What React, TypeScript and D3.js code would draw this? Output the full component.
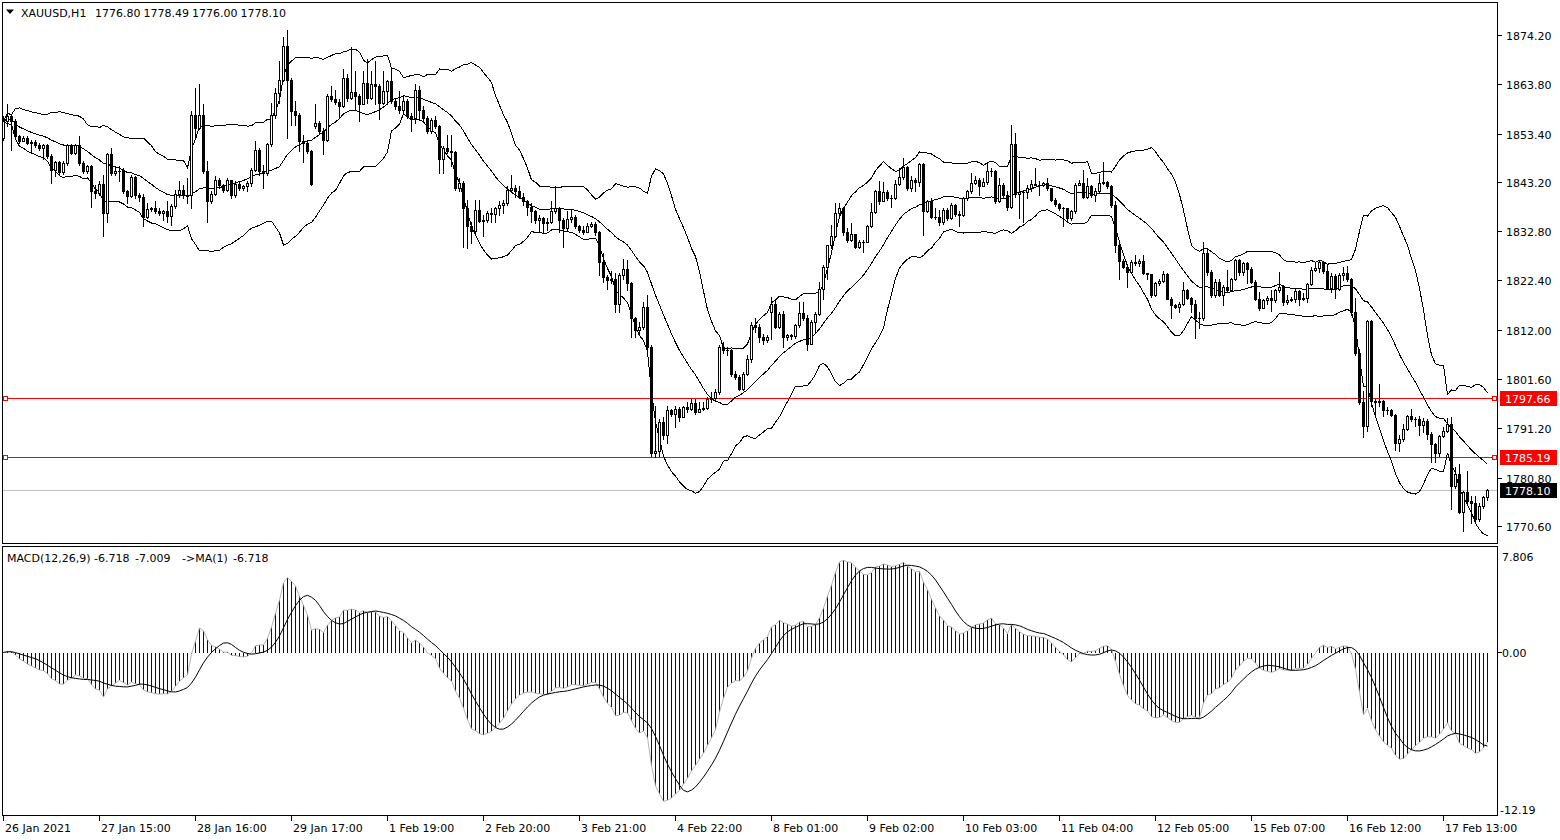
import React, { useEffect, useRef } from "react";
import * as d3 from "d3";

// XAUUSD H1 bars (oldest first)
const opens = [
  1852.5, 1856.0, 1857.1, 1856.0, 1852.8, 1851.9, 1852.5, 1851.4, 1851.6, 1850.9,
  1850.4, 1850.9, 1848.6, 1845.8, 1847.4, 1845.3, 1847.2, 1850.9, 1849.3, 1850.9,
  1847.2, 1845.4, 1846.5, 1841.2, 1840.8, 1842.8, 1836.6, 1849.0, 1845.1, 1845.6,
  1845.4, 1841.2, 1840.3, 1844.2, 1840.5, 1840.1, 1835.9, 1837.5, 1837.7, 1837.0,
  1836.6, 1837.1, 1836.1, 1838.2, 1840.6, 1841.5, 1840.5, 1840.4, 1857.4, 1854.6,
  1857.4, 1845.4, 1839.1, 1840.6, 1843.5, 1842.5, 1841.5, 1843.5, 1840.5, 1842.8,
  1841.9, 1842.3, 1843.0, 1845.8, 1850.0, 1845.4, 1845.1, 1851.1, 1857.3, 1862.0,
  1864.8, 1871.9, 1864.6, 1858.1, 1857.4, 1851.8, 1851.4, 1849.7, 1855.0, 1855.7,
  1854.0, 1852.1, 1861.3, 1860.6, 1860.0, 1859.3, 1865.2, 1861.0, 1862.2, 1861.3,
  1859.7, 1864.1, 1861.0, 1863.9, 1863.4, 1859.9, 1862.4, 1864.5, 1860.3, 1859.2,
  1858.3, 1860.3, 1857.1, 1856.7, 1862.5, 1858.3, 1856.7, 1853.9, 1856.2, 1855.0,
  1848.1, 1850.4, 1849.8, 1849.5, 1841.9, 1843.0, 1837.7, 1834.0, 1832.9, 1837.3,
  1835.0, 1835.2, 1836.6, 1836.4, 1837.7, 1838.4, 1838.7, 1841.5, 1841.9, 1841.2,
  1840.1, 1839.1, 1838.0, 1837.0, 1835.2, 1835.5, 1834.5, 1834.8, 1837.0, 1837.7,
  1835.2, 1833.4, 1835.4, 1835.9, 1833.8, 1833.1, 1832.7, 1834.0, 1834.3, 1832.6,
  1826.4, 1823.2, 1822.5, 1822.8, 1817.5, 1823.5, 1824.8, 1821.8, 1814.4, 1811.9,
  1812.6, 1816.8, 1808.4, 1786.1, 1786.5, 1792.5, 1789.7, 1795.0, 1794.2, 1795.3,
  1793.7, 1795.7, 1795.2, 1796.6, 1794.7, 1795.3, 1795.5, 1797.3, 1797.6, 1798.8,
  1808.4, 1807.7, 1807.8, 1802.7, 1802.0, 1799.5, 1802.7, 1805.9, 1813.0, 1812.6,
  1810.5, 1809.8, 1815.8, 1817.5, 1812.6, 1815.4, 1810.5, 1810.8, 1810.7, 1813.0,
  1815.6, 1814.5, 1809.1, 1813.7, 1815.4, 1820.7, 1825.3, 1829.8, 1831.7, 1836.6,
  1837.7, 1832.6, 1831.0, 1832.2, 1829.5, 1830.5, 1830.6, 1833.8, 1836.8, 1841.3,
  1839.2, 1841.0, 1839.8, 1839.9, 1842.8, 1844.2, 1846.3, 1841.9, 1843.5, 1843.2,
  1847.0, 1837.0, 1839.1, 1835.9, 1835.7, 1834.8, 1837.3, 1835.5, 1838.4, 1836.4,
  1836.3, 1839.8, 1841.2, 1843.0, 1843.5, 1842.3, 1843.2, 1845.6, 1845.4, 1839.1,
  1842.6, 1840.4, 1838.0, 1851.1, 1840.6, 1841.0, 1841.0, 1841.9, 1842.8, 1842.6,
  1842.5, 1843.0, 1841.9, 1839.4, 1838.5, 1837.7, 1837.7, 1835.5, 1837.0, 1842.6,
  1842.9, 1840.1, 1842.3, 1840.5, 1841.3, 1843.0, 1843.1, 1842.3, 1838.4, 1829.9,
  1826.5, 1825.3, 1824.1, 1826.2, 1826.0, 1826.5, 1823.9, 1823.7, 1819.3, 1821.8,
  1822.3, 1823.8, 1818.6, 1817.2, 1816.8, 1817.5, 1820.4, 1818.7, 1817.5, 1814.4,
  1814.5, 1828.1, 1824.1, 1819.3, 1822.1, 1819.3, 1821.1, 1820.4, 1822.7, 1826.7,
  1824.1, 1826.0, 1824.8, 1822.1, 1818.6, 1816.6, 1818.3, 1818.7, 1818.3, 1820.4,
  1821.1, 1817.9, 1818.3, 1818.5, 1820.2, 1818.6, 1818.7, 1821.6, 1824.6, 1825.0,
  1826.4, 1824.3, 1820.9, 1823.4, 1820.6, 1823.5, 1823.9, 1822.7, 1815.8, 1807.0,
  1796.7, 1791.8, 1813.8, 1796.9, 1796.7, 1796.9, 1795.0, 1795.0, 1794.0, 1788.1,
  1789.0, 1791.1, 1793.8, 1793.2, 1793.2, 1791.9, 1792.8, 1790.0, 1787.9, 1786.0,
  1789.5, 1790.7, 1792.1, 1779.1, 1781.5, 1773.6, 1777.7, 1775.9, 1775.5, 1772.0,
  1774.8, 1776.8,
];

const highs = [
  1857.1, 1859.6, 1857.4, 1856.4, 1853.2, 1852.8, 1852.8, 1852.1, 1852.0, 1851.4,
  1851.2, 1851.1, 1849.0, 1847.7, 1847.7, 1847.6, 1851.1, 1851.1, 1851.2, 1852.8,
  1847.6, 1846.8, 1846.8, 1842.6, 1843.3, 1844.7, 1849.3, 1850.4, 1846.1, 1846.5,
  1846.1, 1841.5, 1844.6, 1844.4, 1840.8, 1840.6, 1838.7, 1838.0, 1839.1, 1837.7,
  1837.3, 1839.1, 1838.5, 1841.5, 1843.3, 1842.6, 1844.0, 1858.1, 1863.1, 1863.9,
  1859.6, 1847.6, 1841.2, 1844.4, 1844.0, 1842.8, 1844.0, 1843.7, 1843.3, 1843.2,
  1842.6, 1843.3, 1846.1, 1851.8, 1850.4, 1846.8, 1851.4, 1859.9, 1863.1, 1868.7,
  1873.7, 1875.2, 1865.2, 1860.3, 1857.8, 1853.2, 1852.1, 1850.0, 1859.7, 1856.0,
  1854.6, 1861.7, 1863.4, 1862.7, 1860.6, 1867.0, 1865.9, 1871.6, 1866.6, 1861.7,
  1866.6, 1869.1, 1866.6, 1868.7, 1863.8, 1866.6, 1864.8, 1867.0, 1861.0, 1862.4,
  1861.3, 1860.6, 1857.8, 1863.8, 1863.4, 1859.2, 1857.1, 1856.7, 1857.1, 1855.3,
  1850.7, 1853.2, 1853.2, 1849.7, 1844.0, 1843.3, 1839.4, 1834.8, 1839.4, 1839.4,
  1836.3, 1837.0, 1837.7, 1838.0, 1839.1, 1839.4, 1842.3, 1844.7, 1842.6, 1842.3,
  1840.8, 1839.4, 1838.7, 1837.3, 1836.3, 1835.9, 1835.5, 1839.1, 1842.3, 1838.0,
  1835.5, 1837.0, 1837.3, 1836.3, 1834.1, 1834.0, 1834.5, 1834.7, 1834.8, 1832.9,
  1828.1, 1823.5, 1824.3, 1823.9, 1823.9, 1826.9, 1826.7, 1822.1, 1814.7, 1813.7,
  1817.9, 1819.3, 1808.7, 1796.0, 1793.2, 1793.5, 1796.0, 1795.3, 1796.0, 1795.7,
  1796.0, 1796.7, 1797.4, 1797.4, 1796.7, 1796.7, 1797.8, 1798.8, 1799.5, 1808.7,
  1809.4, 1808.4, 1808.0, 1803.4, 1802.4, 1803.1, 1806.6, 1813.7, 1814.4, 1813.3,
  1811.2, 1811.0, 1819.0, 1818.6, 1815.8, 1815.9, 1811.2, 1811.2, 1813.3, 1817.9,
  1817.9, 1815.1, 1814.0, 1815.8, 1822.1, 1825.7, 1829.9, 1834.1, 1838.7, 1838.7,
  1838.0, 1833.4, 1834.5, 1832.0, 1831.0, 1831.0, 1834.1, 1838.7, 1841.5, 1843.3,
  1843.2, 1841.5, 1840.5, 1843.7, 1846.1, 1848.3, 1846.5, 1844.4, 1844.0, 1847.2,
  1847.2, 1839.4, 1839.8, 1837.7, 1837.3, 1837.7, 1837.7, 1838.7, 1838.5, 1837.0,
  1840.1, 1841.5, 1845.1, 1844.4, 1844.0, 1844.0, 1847.2, 1846.1, 1845.8, 1844.0,
  1843.0, 1841.2, 1855.3, 1853.5, 1845.4, 1841.5, 1842.6, 1843.7, 1846.1, 1843.3,
  1843.2, 1844.0, 1842.0, 1839.8, 1838.7, 1838.0, 1837.5, 1837.3, 1843.0, 1843.7,
  1845.8, 1844.0, 1842.5, 1841.9, 1844.9, 1847.5, 1843.3, 1842.5, 1839.1, 1830.3,
  1826.9, 1825.7, 1826.7, 1827.8, 1826.9, 1827.8, 1823.9, 1823.5, 1822.1, 1822.7,
  1824.3, 1823.9, 1819.0, 1817.5, 1817.9, 1822.1, 1820.7, 1819.0, 1818.3, 1815.8,
  1830.6, 1829.2, 1824.6, 1822.8, 1822.8, 1821.4, 1824.6, 1823.0, 1826.9, 1826.9,
  1826.4, 1826.2, 1825.3, 1822.5, 1819.9, 1818.6, 1819.2, 1820.4, 1820.7, 1824.1,
  1821.4, 1819.3, 1819.0, 1820.7, 1820.4, 1819.7, 1821.8, 1825.3, 1826.0, 1826.7,
  1826.5, 1825.7, 1823.9, 1823.7, 1823.9, 1825.3, 1825.5, 1823.0, 1818.7, 1808.0,
  1799.0, 1814.0, 1814.0, 1797.4, 1800.6, 1797.1, 1795.7, 1795.3, 1794.2, 1789.7,
  1792.1, 1794.0, 1795.2, 1793.5, 1793.9, 1793.3, 1793.2, 1790.4, 1788.2, 1789.7,
  1791.4, 1793.3, 1793.5, 1783.0, 1783.7, 1778.0, 1782.2, 1776.9, 1776.9, 1775.5,
  1776.9, 1778.49,
];

const lows = [
  1852.1, 1855.0, 1850.0, 1852.5, 1851.4, 1851.8, 1851.1, 1849.3, 1850.5, 1850.0,
  1848.1, 1848.3, 1843.0, 1844.4, 1844.9, 1844.9, 1846.8, 1849.0, 1849.0, 1846.8,
  1845.1, 1845.1, 1838.0, 1839.8, 1840.5, 1831.7, 1834.8, 1844.7, 1844.7, 1843.3,
  1840.8, 1838.7, 1840.1, 1839.8, 1839.1, 1833.8, 1835.5, 1837.0, 1836.6, 1836.3,
  1835.2, 1834.8, 1834.1, 1837.7, 1840.1, 1839.8, 1838.7, 1837.7, 1852.8, 1854.3,
  1845.1, 1834.8, 1838.7, 1840.4, 1841.9, 1841.1, 1841.2, 1839.8, 1840.1, 1841.5,
  1841.5, 1841.2, 1842.3, 1845.4, 1844.7, 1841.9, 1844.7, 1850.7, 1856.7, 1859.9,
  1864.5, 1852.5, 1855.3, 1855.3, 1849.7, 1847.5, 1849.3, 1842.5, 1854.6, 1853.5,
  1849.0, 1851.8, 1860.3, 1859.6, 1856.7, 1859.0, 1860.3, 1860.6, 1858.5, 1856.0,
  1859.6, 1859.9, 1860.6, 1859.6, 1856.4, 1859.6, 1859.6, 1859.9, 1858.5, 1857.8,
  1857.8, 1856.7, 1853.9, 1855.7, 1856.7, 1856.0, 1853.5, 1853.5, 1854.6, 1845.1,
  1845.1, 1849.3, 1846.5, 1841.5, 1841.2, 1829.5, 1829.2, 1830.3, 1832.6, 1834.8,
  1831.7, 1834.8, 1834.8, 1834.8, 1836.2, 1836.6, 1838.4, 1841.2, 1840.1, 1839.8,
  1838.4, 1836.3, 1834.8, 1834.5, 1832.7, 1832.4, 1833.1, 1834.5, 1836.6, 1832.7,
  1829.5, 1833.1, 1834.8, 1833.4, 1832.6, 1832.2, 1832.6, 1833.6, 1832.0, 1823.5,
  1822.1, 1820.7, 1821.8, 1815.8, 1815.8, 1822.8, 1820.4, 1810.5, 1810.5, 1811.2,
  1812.2, 1807.7, 1785.4, 1785.1, 1785.4, 1789.0, 1788.2, 1793.9, 1791.4, 1792.8,
  1793.5, 1794.6, 1795.0, 1794.2, 1794.6, 1795.0, 1795.3, 1796.7, 1797.1, 1798.5,
  1807.0, 1806.6, 1802.2, 1801.7, 1799.2, 1799.2, 1802.5, 1805.2, 1811.5, 1809.4,
  1809.1, 1809.4, 1810.1, 1812.3, 1812.3, 1808.4, 1809.8, 1810.1, 1810.3, 1812.6,
  1814.0, 1807.7, 1808.9, 1811.5, 1815.1, 1818.6, 1822.8, 1829.2, 1831.5, 1835.9,
  1832.0, 1830.6, 1830.8, 1829.2, 1829.3, 1828.5, 1830.5, 1833.6, 1836.6, 1838.5,
  1839.1, 1839.4, 1838.0, 1839.6, 1842.5, 1843.9, 1841.5, 1841.3, 1841.2, 1842.3,
  1832.0, 1836.8, 1835.5, 1835.4, 1834.1, 1834.3, 1835.2, 1835.4, 1836.1, 1834.0,
  1836.1, 1839.4, 1840.8, 1842.7, 1840.5, 1842.6, 1842.8, 1844.4, 1838.7, 1838.9,
  1839.9, 1837.3, 1837.7, 1840.1, 1835.5, 1834.8, 1839.8, 1841.2, 1842.5, 1840.5,
  1842.3, 1841.5, 1839.1, 1838.2, 1837.3, 1833.8, 1835.0, 1835.2, 1836.6, 1842.5,
  1839.8, 1839.9, 1840.1, 1839.2, 1841.0, 1842.8, 1841.9, 1838.0, 1828.5, 1822.8,
  1825.0, 1821.1, 1823.9, 1825.7, 1825.5, 1823.7, 1822.8, 1819.0, 1819.2, 1821.4,
  1822.0, 1818.5, 1814.4, 1816.5, 1815.8, 1817.3, 1818.5, 1815.8, 1810.3, 1812.3,
  1814.0, 1823.5, 1819.0, 1819.0, 1819.2, 1817.3, 1820.0, 1820.2, 1822.5, 1823.5,
  1823.5, 1821.8, 1821.8, 1818.3, 1816.1, 1816.5, 1817.5, 1815.9, 1817.9, 1820.0,
  1817.2, 1817.5, 1818.0, 1817.8, 1817.2, 1818.3, 1817.9, 1821.4, 1824.4, 1824.1,
  1823.9, 1820.7, 1819.9, 1818.7, 1820.4, 1822.5, 1822.3, 1815.1, 1806.6, 1796.4,
  1789.3, 1790.7, 1796.0, 1793.5, 1796.0, 1793.8, 1794.2, 1793.9, 1786.7, 1786.5,
  1788.6, 1790.9, 1792.8, 1791.8, 1789.7, 1790.4, 1789.0, 1784.0, 1784.0, 1785.4,
  1789.3, 1790.4, 1774.1, 1778.7, 1773.4, 1769.5, 1775.5, 1771.3, 1771.3, 1771.7,
  1774.5, 1776.0,
];

const closes = [
  1856.0, 1857.1, 1856.0, 1852.8, 1851.9, 1852.5, 1851.4, 1851.6, 1850.9, 1850.4,
  1850.9, 1848.6, 1845.8, 1847.4, 1845.3, 1847.2, 1850.9, 1849.3, 1850.9, 1847.2,
  1845.4, 1846.5, 1841.2, 1840.8, 1842.8, 1836.6, 1849.0, 1845.1, 1845.6, 1845.4,
  1841.2, 1840.3, 1844.2, 1840.5, 1840.1, 1835.9, 1837.5, 1837.7, 1837.0, 1836.6,
  1837.1, 1836.1, 1838.2, 1840.6, 1841.5, 1840.5, 1840.4, 1857.4, 1854.6, 1857.4,
  1845.4, 1839.1, 1840.6, 1843.5, 1842.5, 1841.5, 1843.5, 1840.5, 1842.8, 1841.9,
  1842.3, 1843.0, 1845.8, 1850.0, 1845.4, 1845.1, 1851.1, 1857.3, 1862.0, 1864.8,
  1871.9, 1864.6, 1858.1, 1857.4, 1851.8, 1851.4, 1849.7, 1842.8, 1855.7, 1854.0,
  1852.1, 1861.3, 1860.6, 1860.0, 1859.3, 1865.2, 1861.0, 1862.2, 1861.3, 1859.7,
  1864.1, 1861.0, 1863.9, 1863.4, 1859.9, 1862.4, 1864.5, 1860.3, 1859.2, 1858.3,
  1860.3, 1857.1, 1856.7, 1862.5, 1858.3, 1856.7, 1853.9, 1856.2, 1855.0, 1848.1,
  1850.4, 1849.8, 1849.5, 1841.9, 1843.0, 1837.7, 1834.0, 1832.9, 1837.3, 1835.0,
  1835.2, 1836.6, 1836.4, 1837.7, 1838.4, 1838.7, 1841.5, 1841.9, 1841.2, 1840.1,
  1839.1, 1838.0, 1837.0, 1835.2, 1835.5, 1834.5, 1834.8, 1837.0, 1837.7, 1835.2,
  1833.4, 1835.4, 1835.9, 1833.8, 1833.1, 1832.7, 1834.0, 1834.3, 1832.6, 1826.4,
  1823.2, 1822.5, 1822.8, 1817.5, 1823.5, 1824.8, 1821.8, 1814.4, 1811.9, 1812.6,
  1816.8, 1808.4, 1786.1, 1786.5, 1792.5, 1789.7, 1795.0, 1794.2, 1795.3, 1793.7,
  1795.7, 1795.2, 1796.6, 1794.7, 1795.3, 1795.5, 1797.3, 1797.6, 1798.8, 1808.4,
  1807.7, 1807.8, 1802.7, 1802.0, 1799.5, 1802.7, 1805.9, 1813.0, 1812.6, 1810.5,
  1809.8, 1810.5, 1817.5, 1812.6, 1815.4, 1810.5, 1810.8, 1810.7, 1813.0, 1815.6,
  1814.5, 1809.1, 1813.7, 1815.4, 1820.7, 1825.3, 1829.8, 1831.7, 1836.6, 1837.7,
  1832.6, 1831.0, 1832.2, 1829.5, 1830.5, 1830.6, 1833.8, 1836.8, 1841.3, 1839.2,
  1841.0, 1839.8, 1839.9, 1842.8, 1844.2, 1846.3, 1841.9, 1843.5, 1843.2, 1847.0,
  1837.0, 1839.1, 1835.9, 1835.7, 1834.8, 1837.3, 1835.5, 1838.4, 1836.4, 1836.3,
  1839.8, 1841.2, 1843.0, 1843.5, 1842.3, 1843.2, 1845.6, 1845.4, 1839.1, 1842.6,
  1840.4, 1838.0, 1851.1, 1840.6, 1841.0, 1841.0, 1841.9, 1842.8, 1842.6, 1842.5,
  1843.0, 1841.9, 1839.4, 1838.5, 1837.7, 1837.7, 1835.5, 1837.0, 1842.6, 1842.9,
  1840.1, 1842.3, 1840.5, 1841.3, 1843.0, 1843.1, 1842.3, 1838.4, 1829.9, 1826.5,
  1825.3, 1824.1, 1826.2, 1826.0, 1826.5, 1823.9, 1823.7, 1819.3, 1821.8, 1822.3,
  1823.8, 1818.6, 1817.2, 1816.8, 1817.5, 1820.4, 1818.7, 1817.5, 1814.4, 1814.5,
  1828.1, 1824.1, 1819.3, 1822.1, 1819.3, 1821.1, 1820.4, 1822.7, 1826.7, 1824.1,
  1826.0, 1824.8, 1822.1, 1818.6, 1816.6, 1818.3, 1818.7, 1818.3, 1820.4, 1821.1,
  1817.9, 1818.3, 1818.5, 1820.2, 1818.6, 1818.7, 1821.6, 1824.6, 1825.0, 1826.4,
  1824.3, 1820.9, 1823.4, 1820.6, 1823.5, 1823.9, 1822.7, 1815.8, 1807.0, 1796.7,
  1791.8, 1813.8, 1796.9, 1796.7, 1796.9, 1795.0, 1795.0, 1794.0, 1788.1, 1789.0,
  1791.1, 1793.8, 1793.2, 1793.2, 1791.9, 1792.8, 1790.0, 1787.9, 1786.0, 1789.5,
  1790.7, 1792.1, 1779.1, 1781.5, 1773.6, 1777.7, 1775.9, 1775.5, 1772.0, 1774.8,
  1776.8, 1778.1,
];

const priceTicks = [1874.2, 1863.8, 1853.4, 1843.2, 1832.8, 1822.4, 1812.0, 1801.6, 1791.2, 1780.8, 1770.6];
const macdTicks = [7.806, 0, -12.19];
const macdTickText = ["7.806", "0.00", "-12.19"];
const timeLabels = [
  "26 Jan 2021", "27 Jan 15:00", "28 Jan 16:00", "29 Jan 17:00", "1 Feb 19:00", "2 Feb 20:00",
  "3 Feb 21:00", "4 Feb 22:00", "8 Feb 01:00", "9 Feb 02:00", "10 Feb 03:00", "11 Feb 04:00",
  "12 Feb 05:00", "15 Feb 07:00", "16 Feb 12:00", "17 Feb 13:00",
];
const timeLabelBars = [0, 24, 48, 72, 96, 120, 144, 168, 192, 216, 240, 264, 288, 312, 336, 360];
const levelLines = [1797.66, 1785.19];
const bidPrice = 1778.1;
const headerValues = ["1776.80", "1778.49", "1776.00", "1778.10"];
const macdHeader = ["MACD(12,26,9)", "-6.718", "-7.009", "->MA(1)", "-6.718"];

const W = 1560;
const H = 840;
const LEFT = 2.5;
const RIGHT = 1497.5;
const MAIN_TOP = 2.5;
const MAIN_BOTTOM = 543.5;
const SUB_TOP = 546.5;
const SUB_BOTTOM = 815.5;
const FONT = "'DejaVu Sans', Verdana, sans-serif";

function ema(values: number[], period: number) {
  const k = 2 / (period + 1);
  const out: number[] = [];
  values.forEach((v, i) => out.push(i === 0 ? v : v * k + out[i - 1] * (1 - k)));
  return out;
}

function sma(values: number[], period: number) {
  return values.map((_, i) => d3.mean(values.slice(Math.max(0, i - period + 1), i + 1)) as number);
}

function bollinger(values: number[], period: number, dev: number) {
  return values.map((_, i) => {
    const w = values.slice(Math.max(0, i - period + 1), i + 1);
    const m = d3.mean(w) as number;
    const sd = Math.sqrt(d3.mean(w, (v) => (v - m) * (v - m)) as number);
    return { mid: m, up: m + dev * sd, lo: m - dev * sd };
  });
}

export default function App() {
  const ref = useRef<SVGSVGElement>(null);

  useEffect(() => {
    const svg = d3.select(ref.current);
    svg.selectAll("*").remove();

    const n = closes.length;
    const x = d3.scaleLinear().domain([0, n - 1]).range([3.5, 1487.5]);
    const y = d3.scaleLinear().domain([1770.6, 1874.2]).range([526, 35]);
    // indicator window: the scale labels are the window's edge values
    const ym = d3.scaleLinear().domain([-12.19, 7.806]).range([SUB_BOTTOM, SUB_TOP + 1.5]);

    svg.append("rect").attr("width", W).attr("height", H).attr("fill", "#fff");

    const defs = svg.append("defs");
    defs.append("clipPath").attr("id", "mainClip").append("rect")
      .attr("x", LEFT).attr("y", MAIN_TOP).attr("width", RIGHT - LEFT).attr("height", MAIN_BOTTOM - MAIN_TOP);
    defs.append("clipPath").attr("id", "subClip").append("rect")
      .attr("x", LEFT).attr("y", SUB_TOP).attr("width", RIGHT - LEFT).attr("height", SUB_BOTTOM - SUB_TOP);

    // ---- main window ----
    const main = svg.append("g").attr("clip-path", "url(#mainClip)").style("shape-rendering", "crispEdges");

    // bid line
    const yb = Math.round(y(bidPrice)) + 0.5;
    main.append("line").attr("x1", LEFT).attr("x2", RIGHT).attr("y1", yb).attr("y2", yb)
      .attr("stroke", "#c0c0c0");

    // horizontal levels
    levelLines.forEach((lv) => {
      const yy = Math.round(y(lv)) + 0.5;
      main.append("line").attr("x1", LEFT).attr("x2", RIGHT).attr("y1", yy).attr("y2", yy).attr("stroke", "#ff0000");
      [4, 1493].forEach((sx) =>
        main.append("rect").attr("x", sx - 0.5).attr("y", yy - 2).attr("width", 4).attr("height", 4)
          .attr("fill", "#fff").attr("stroke", "#ff0000"));
    });

    // bollinger bands (20, 2)
    const bb = bollinger(closes, 20, 2);
    (["up", "mid", "lo"] as const).forEach((key) => {
      const line = d3.line<{ mid: number; up: number; lo: number }>()
        .x((_, i) => x(i))
        .y((d) => y(d[key]));
      main.append("path").datum(bb).attr("d", line).attr("fill", "none").attr("stroke", "#000").attr("stroke-width", 1);
    });

    // candles
    closes.forEach((c, i) => {
      const o = opens[i];
      const cx = x(i);
      const yh = Math.round(y(highs[i]));
      const yl = Math.round(y(lows[i]));
      main.append("line").attr("x1", cx).attr("x2", cx).attr("y1", yh).attr("y2", yl + 1).attr("stroke", "#000");
      const yo = Math.round(y(o));
      const yc = Math.round(y(c));
      if (yo === yc) {
        main.append("line").attr("x1", cx - 1.5).attr("x2", cx + 1.5).attr("y1", yo + 0.5).attr("y2", yo + 0.5)
          .attr("stroke", "#000");
      } else if (c > o) {
        main.append("rect").attr("x", cx - 1).attr("y", yc + 0.5).attr("width", 2).attr("height", yo - yc)
          .attr("fill", "#fff").attr("stroke", "#000");
      } else {
        main.append("rect").attr("x", cx - 1.5).attr("y", yo).attr("width", 3).attr("height", yc - yo + 1)
          .attr("fill", "#000");
      }
    });

    // frames
    const frames = svg.append("g").style("shape-rendering", "crispEdges");
    frames.append("rect").attr("x", LEFT).attr("y", MAIN_TOP).attr("width", RIGHT - LEFT).attr("height", MAIN_BOTTOM - MAIN_TOP)
      .attr("fill", "none").attr("stroke", "#000");
    frames.append("rect").attr("x", LEFT).attr("y", SUB_TOP).attr("width", RIGHT - LEFT).attr("height", SUB_BOTTOM - SUB_TOP)
      .attr("fill", "none").attr("stroke", "#000");

    // price axis
    const axis = svg.append("g").style("font-family", FONT).style("font-size", "11px");
    priceTicks.forEach((p) => {
      const yy = Math.round(y(p)) + 0.5;
      axis.append("line").attr("x1", RIGHT).attr("x2", RIGHT + 4).attr("y1", yy).attr("y2", yy)
        .attr("stroke", "#000").style("shape-rendering", "crispEdges");
      axis.append("text").attr("x", 1506).attr("y", yy + 4).attr("fill", "#000").text(p.toFixed(2));
    });
    const tag = (price: number, bg: string) => {
      const yy = Math.round(y(price)) + 0.5;
      axis.append("rect").attr("x", 1500).attr("y", yy - 7.5).attr("width", 57).attr("height", 15).attr("fill", bg);
      axis.append("text").attr("x", 1505).attr("y", yy + 4).attr("fill", "#fff").text(price.toFixed(2));
    };
    levelLines.forEach((lv) => tag(lv, "#ff0000"));
    tag(bidPrice, "#000");

    // header
    const head = svg.append("g").style("font-family", FONT).style("font-size", "11px").attr("fill", "#000");
    head.append("path").attr("d", "M6,9.5 L14,9.5 L10,14 Z").attr("fill", "#000");
    head.append("text").attr("x", 21).attr("y", 16.5).text("XAUUSD,H1");
    [95, 143.5, 192, 240.5].forEach((tx, k) => head.append("text").attr("x", tx).attr("y", 16.5).text(headerValues[k]));

    // ---- MACD window ----
    const fast = ema(closes, 12);
    const slow = ema(closes, 26);
    const macd = fast.map((f, i) => f - slow[i]);
    const signal = sma(macd, 9);

    const sub = svg.append("g").attr("clip-path", "url(#subClip)");
    const y0 = Math.round(ym(0)) + 0.5;
    macd.forEach((v, i) => {
      sub.append("line").attr("x1", x(i)).attr("x2", x(i)).attr("y1", y0).attr("y2", ym(v))
        .attr("stroke", "#000080").style("shape-rendering", "crispEdges");
    });
    sub.append("path").datum(macd)
      .attr("d", d3.line<number>().x((_, i) => x(i)).y((d) => ym(d)))
      .attr("fill", "none").attr("stroke", "#b4b4b4").attr("stroke-width", 1);
    sub.append("path").datum(signal)
      .attr("d", d3.line<number>().x((_, i) => x(i)).y((d) => ym(d)))
      .attr("fill", "none").attr("stroke", "#000").attr("stroke-width", 1);

    const subHead = svg.append("g").style("font-family", FONT).style("font-size", "11px").attr("fill", "#000");
    [7, 94, 135, 182, 233].forEach((tx, k) => subHead.append("text").attr("x", tx).attr("y", 561.5).text(macdHeader[k]));

    macdTicks.forEach((v, k) => {
      const yy = Math.round(ym(v)) + 0.5;
      // edge labels are kept inside the window
      const ty = k === 0 ? yy + 12 : k === 2 ? yy - 3 : yy + 4;
      if (k === 1) {
        axis.append("line").attr("x1", RIGHT).attr("x2", RIGHT + 4).attr("y1", yy).attr("y2", yy)
          .attr("stroke", "#000").style("shape-rendering", "crispEdges");
      }
      axis.append("text").attr("x", k === 2 ? 1500 : 1502).attr("y", ty).text(macdTickText[k]);
    });

    // time axis
    timeLabels.forEach((t, k) => {
      const tx = x(timeLabelBars[k]);
      axis.append("line").attr("x1", tx).attr("x2", tx).attr("y1", SUB_BOTTOM).attr("y2", SUB_BOTTOM + 5)
        .attr("stroke", "#000").style("shape-rendering", "crispEdges");
      axis.append("text").attr("x", tx + 1.5).attr("y", 832).text(t);
    });
  }, []);

  return (
    <div style={{ position: "absolute", left: 0, top: 0 }}>
      <svg ref={ref} width={W} height={H} style={{ display: "block" }} />
    </div>
  );
}
